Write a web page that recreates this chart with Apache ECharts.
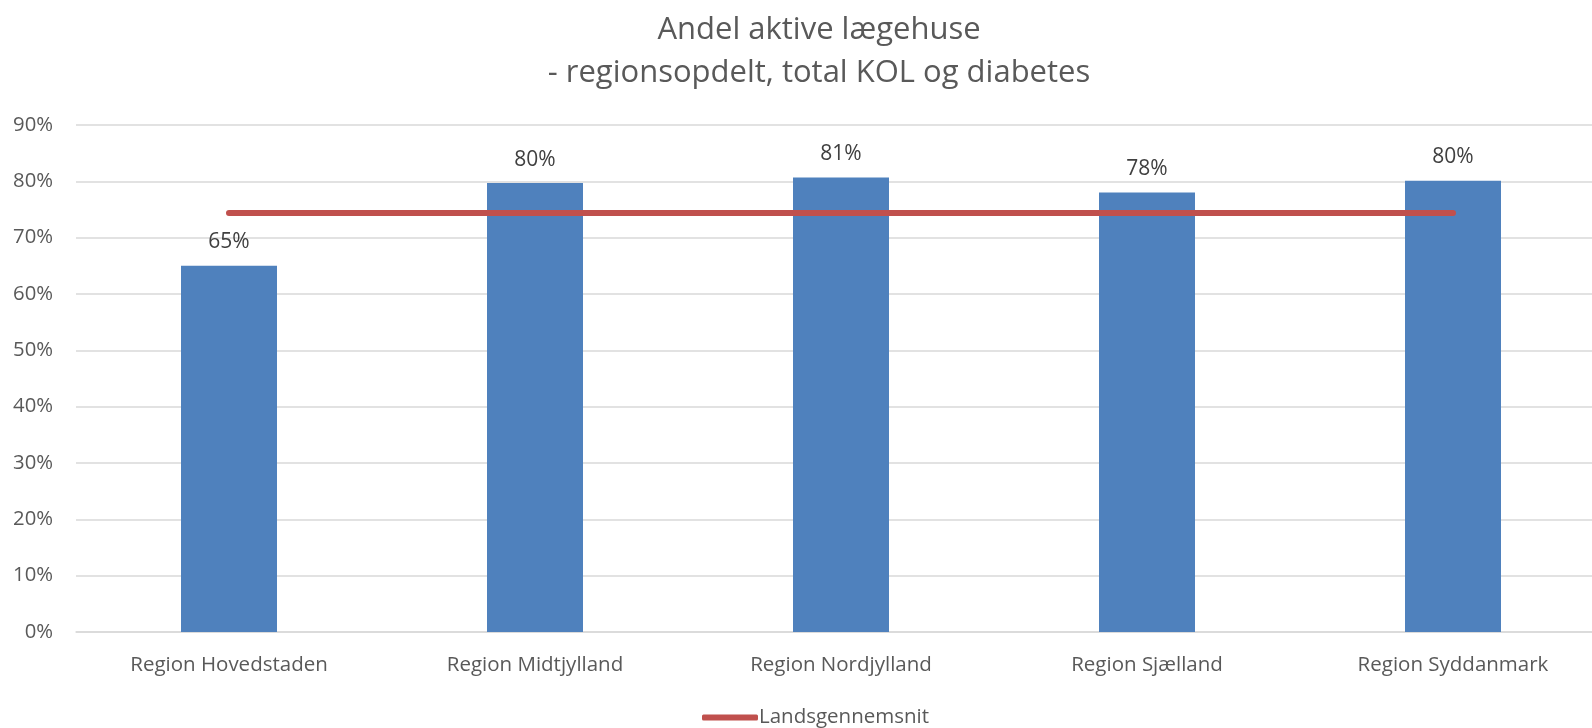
<!DOCTYPE html>
<html>
<head>
<meta charset="utf-8">
<script src="https://cdn.jsdelivr.net/npm/echarts@6/dist/echarts.min.js"></script>
<style>
  html, body { margin: 0; padding: 0; background: #fff; }
  #chart { width: 1592px; height: 728px; }
</style>
</head>
<body>
<div id="chart"></div>
<script>
// data
const regions = ['Region Hovedstaden', 'Region Midtjylland', 'Region Nordjylland', 'Region Sjælland', 'Region Syddanmark']
const andelAktive = [65.0, 79.7, 80.7, 78.0, 80.1]
const landsgennemsnit = [74.4, 74.4, 74.4, 74.4, 74.4]

const chart = echarts.init(document.getElementById('chart'))
const font = '"Open Sans", "Noto Sans", sans-serif'

chart.setOption({
  animation: false,
  textStyle: { fontFamily: font },
  title: {
    text: 'Andel aktive lægehuse\n- regionsopdelt, total KOL og diabetes',
    left: 814,
    top: 4,
    textAlign: 'center',
    textStyle: {
      fontFamily: font,
      fontSize: 31,
      fontWeight: 'normal',
      color: '#595959',
      lineHeight: 43
    }
  },
  legend: {
    data: ['Landsgennemsnit'],
    left: 697,
    top: 702,
    itemWidth: 56,
    itemHeight: 6,
    icon: 'roundRect',
    textStyle: { fontFamily: font, fontSize: 20.5, color: '#595959', padding: [0, 0, 0, -4] }
  },
  grid: {
    left: 76,
    top: 125,
    width: 1530,
    height: 507,
    outerBoundsMode: 'none'
  },
  xAxis: {
    type: 'category',
    data: regions,
    axisTick: { show: false },
    axisLine: { lineStyle: { color: '#D9D9D9', width: 1.5 } },
    axisLabel: { color: '#595959', fontSize: 20.5, margin: 23, fontFamily: font }
  },
  yAxis: {
    type: 'value',
    min: 0,
    max: 90,
    interval: 10,
    axisLine: { show: false },
    axisTick: { show: false },
    axisLabel: { formatter: '{value}%', color: '#595959', fontSize: 20.3, margin: 23, fontFamily: font },
    splitLine: { lineStyle: { color: '#D9D9D9', width: 1.5 } }
  },
  series: [
    {
      name: 'Andel',
      type: 'bar',
      data: andelAktive,
      barWidth: 96,
      itemStyle: { color: '#4F81BD' },
      label: {
        show: true,
        position: 'top',
        distance: 13,
        formatter: p => Math.round(p.value) + '%',
        color: '#404040',
        fontSize: 21,
        fontFamily: font
      },
      z: 2
    },
    {
      name: 'Landsgennemsnit',
      type: 'line',
      data: landsgennemsnit,
      symbol: 'none',
      itemStyle: { color: '#C0504D' },
      lineStyle: { color: '#C0504D', width: 6, cap: 'round' },
      z: 3
    }
  ]
})
</script>
</body>
</html>
